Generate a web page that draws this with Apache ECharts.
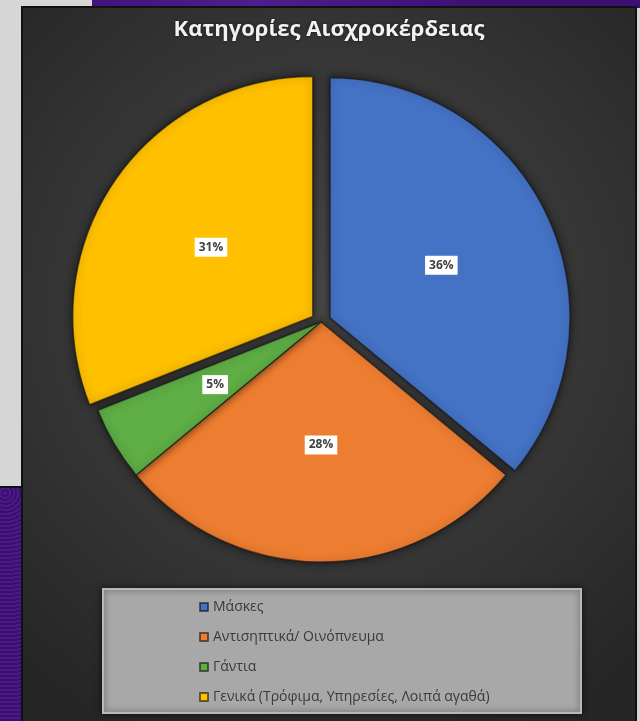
<!DOCTYPE html>
<html>
<head>
<meta charset="utf-8">
<script src="https://cdn.jsdelivr.net/npm/echarts@6/dist/echarts.min.js"></script>
<style>
  html, body { margin:0; padding:0; width:640px; height:721px; overflow:hidden; background:#d6d6d6; }
  #purpleTop { position:absolute; left:92px; top:0; width:548px; height:8px; background:radial-gradient(circle at 30% 50%,#4d1f8e 0,#3a1172 60%); }
  #purpleLeft { position:absolute; left:0; top:486px; width:24px; height:235px; background:repeating-radial-gradient(circle at 5px 5px,#4a1a88 0 2px,#3a0f70 2px 4px); border-top:2px solid #111; }
  #frame { position:absolute; left:21px; top:6px; width:616px; height:717px; border:2px solid #111; box-sizing:border-box; }
  #chart { position:absolute; left:23px; top:8px; width:612px; height:713px; }
</style>
</head>
<body>
<div id="purpleTop"></div>
<div id="purpleLeft"></div>
<div id="frame"></div>
<div id="chart"></div>
<script>
const title = 'Κατηγορίες Αισχροκέρδειας';
const categories = ['Μάσκες', 'Αντισηπτικά/ Οινόπνευμα', 'Γάντια', 'Γενικά (Τρόφιμα, Υπηρεσίες, Λοιπά αγαθά)'];
const values = [36, 28, 5, 31];
const exploded = [true, false, false, true];
const colors = ['#4472C4', '#ED7D31', '#5EAD45', '#FFC000'];

const chart = echarts.init(document.getElementById('chart'), null, { renderer: 'canvas' });
const option = {
  animation: false,
  backgroundColor: {
    type: 'radial', x: 0.5, y: 0.42, r: 0.75,
    colorStops: [{ offset: 0, color: '#4a4a4a' }, { offset: 1, color: '#262626' }]
  },
  title: {
    text: title, left: 'center', top: 6,
    textStyle: { color: '#f2f2f2', fontFamily: 'Open Sans', fontWeight: 'bold', fontSize: 22,
      textShadowColor: 'rgba(0,0,0,0.6)', textShadowBlur: 3 }
  },
  graphic: [{
    type: 'rect', left: 79, top: 580, z: -1,
    shape: { width: 478, height: 124 },
    style: { fill: '#a8a8a8', stroke: '#b8b8b8', lineWidth: 2, shadowBlur: 6, shadowColor: 'rgba(0,0,0,0.6)' }
  }],
  legend: {
    orient: 'vertical', left: 171, top: 587,
    itemWidth: 8, itemHeight: 8, itemGap: 16, icon: 'rect',
    textStyle: { color: '#3a3a3a', fontFamily: 'Open Sans', fontSize: 14 },
    data: categories
  },
  series: [{
    type: 'pie',
    center: [298, 314],
    radius: 240,
    startAngle: 90,
    clockwise: true,
    selectedMode: 'multiple',
    selectedOffset: 10,
    avoidLabelOverlap: false,
    label: {
      show: true, position: 'inside',
      formatter: p => p.value + '%',
      backgroundColor: '#ffffff', padding: [4, 4, 3, 4],
      color: '#404040', fontFamily: 'Open Sans', fontSize: 12, fontWeight: 'bold'
    },
    labelLine: { show: false },
    itemStyle: { borderColor: 'rgba(20,20,20,0.6)', borderWidth: 1.5, shadowBlur: 8, shadowColor: 'rgba(0,0,0,0.6)' },
    emphasis: { disabled: true },
    data: categories.map((c, i) => ({
      name: c, value: values[i], selected: exploded[i],
      itemStyle: { color: colors[i] }
    }))
  }]
};
chart.setOption(option);
</script>
</body>
</html>
